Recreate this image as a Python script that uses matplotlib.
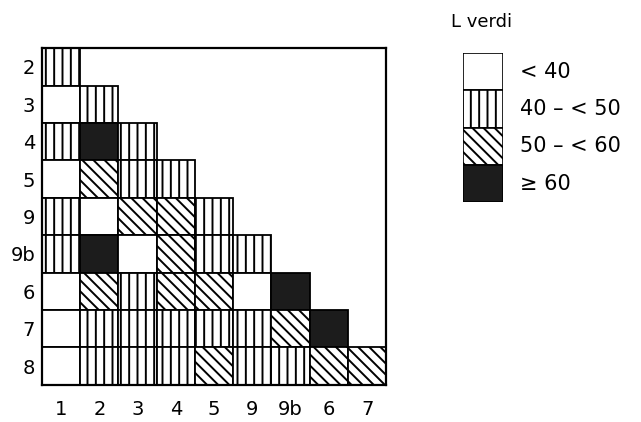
import numpy as np
import matplotlib
matplotlib.use('Agg')
import matplotlib.pyplot as plt

plt.rcParams['font.family'] = ['DejaVu Sans']
plt.rcParams['hatch.linewidth'] = 1.4

# row / column labels of the triangular matrix
row_labels = ['2', '3', '4', '5', '9', '9b', '6', '7', '8']
col_labels = ['1', '2', '3', '4', '5', '9', '9b', '6', '7']

# class of each cell: 0 = <40, 1 = 40-<50, 2 = 50-<60, 3 = >=60
cells = [
    [1],
    [0, 1],
    [1, 3, 1],
    [0, 2, 1, 1],
    [1, 0, 2, 2, 1],
    [1, 3, 0, 2, 1, 1],
    [0, 2, 1, 2, 2, 0, 3],
    [0, 1, 1, 1, 1, 1, 2, 3],
    [0, 1, 1, 1, 2, 1, 1, 2, 2],
]

legend_title = 'L verdi'
class_labels = ['< 40', '40 \u2013 < 50', '50 \u2013 < 60', '\u2265 60']

# style per class
class_face = ['white', 'white', 'white', '#1c1c1c']
class_hatch = [None, '||', '\\\\\\', None]

fig = plt.figure(figsize=(6.41, 4.22), dpi=100)
ax = fig.add_axes([0.0655, 0.088, 0.537, 0.798])

for i, row in enumerate(cells):
    for j, c in enumerate(row):
        ax.bar(j, 1, bottom=i - 0.5, width=1, color=class_face[c],
               hatch=class_hatch[c], edgecolor='black', linewidth=1.3)

ax.set_xlim(-0.5, len(col_labels) - 0.5)
ax.set_ylim(len(row_labels) - 0.5, -0.5)
ax.set_xticks(range(len(col_labels)))
ax.set_xticklabels(col_labels, fontsize=14)
ax.set_yticks(range(len(row_labels)))
ax.set_yticklabels(row_labels, fontsize=14)
ax.tick_params(length=0, pad=5)
ax.tick_params(axis='x', pad=11)
for s in ax.spines.values():
    s.set_linewidth(1.6)

# legend drawn as a column of boxes
lax = fig.add_axes([0.722, 0.521, 0.0624, 0.353])
for k in range(len(class_labels)):
    lax.bar(0, 1, bottom=k, width=1, color=class_face[k],
            hatch=class_hatch[k], edgecolor='black', linewidth=1.2)
    lax.text(0.93, k + 0.5, class_labels[k], fontsize=15, va='center', ha='left')
lax.set_xlim(-0.5, 0.5)
lax.set_ylim(len(class_labels), 0)
lax.axis('off')
fig.text(0.703, 0.948, legend_title, fontsize=13, ha='left', va='center')

fig.savefig('out.png', dpi=100)
